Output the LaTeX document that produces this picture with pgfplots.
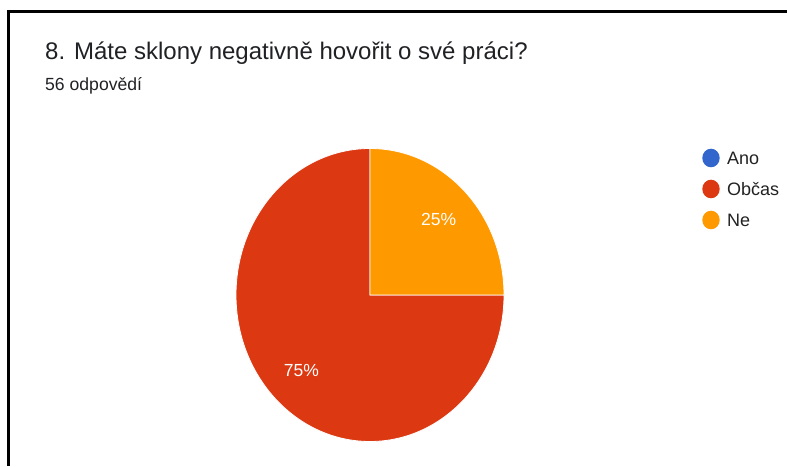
\documentclass[border=0pt]{standalone}
\usepackage{pgfplots}
\usepackage{pgfplotstable}
\pgfplotsset{compat=1.18}
\usetikzlibrary{calc}
\usepackage{fontspec}
\setmainfont{Liberation Sans}
\definecolor{cAno}{HTML}{3366CC}
\definecolor{cObcas}{HTML}{DC3912}
\definecolor{cNe}{HTML}{FF9900}
\definecolor{txt}{HTML}{202124}
\definecolor{leg}{HTML}{222222}

\pgfplotstableread{
label count
Ano 0
Obcas 42
Ne 14
}\piedata

\begin{document}
\begin{tikzpicture}
\pgfplotstablegetelem{0}{count}\of\piedata \edef\vA{\pgfplotsretval}
\pgfplotstablegetelem{1}{count}\of\piedata \edef\vB{\pgfplotsretval}
\pgfplotstablegetelem{2}{count}\of\piedata \edef\vC{\pgfplotsretval}
\pgfmathsetmacro\tot{\vA+\vB+\vC}
% Ne: from 90 clockwise
\pgfmathsetmacro\neS{90}
\pgfmathsetmacro\neE{90-360*\vC/\tot}
\pgfmathsetmacro\obS{\neE}
\pgfmathsetmacro\obE{\obS-360*\vB/\tot}
\pgfmathsetmacro\neM{(\neS+\neE)/2}
\pgfmathsetmacro\obM{(\obS+\obE)/2}
\pgfmathsetmacro\nePct{round(100*\vC/\tot)}
\pgfmathsetmacro\obPct{round(100*\vB/\tot)}
\pgfmathtruncatemacro\nePctI{\nePct}
\pgfmathtruncatemacro\obPctI{\obPct}
\begin{axis}[
  at={(0,0)}, anchor=south west,
  scale only axis, width=787pt, height=466pt,
  xmin=0, xmax=787, ymin=0, ymax=466,
  hide axis, clip=false,
]
% border
\draw[black, line width=3.3pt] (axis cs:6.8,454.5) -- (axis cs:787,454.5);
\draw[black, line width=3.3pt] (axis cs:8.4,456.1) -- (axis cs:8.4,0);
% title
\node[anchor=base west, inner sep=0pt, text=txt, font=\fontsize{24}{27}\selectfont] at (axis cs:45,406) {8. Máte sklony negativně hovořit o své práci?};
\node[anchor=base west, inner sep=0pt, text=txt, font=\fontsize{17.6}{20}\selectfont] at (axis cs:45,375) {56 odpovědí};
% pie
\fill[cObcas, draw=white, line width=0.8pt] (axis cs:370,171) -- ++(\obS:134pt and 146.5pt) arc[start angle=\obS, end angle=\obE, x radius=134pt, y radius=146.5pt] -- cycle;
\fill[cNe, draw=white, line width=0.8pt] (axis cs:370,171) -- ++(\neS:134pt and 146.5pt) arc[start angle=\neS, end angle=\neE, x radius=134pt, y radius=146.5pt] -- cycle;
\node[text=white, font=\fontsize{17.5}{20}\selectfont] at ($(axis cs:370,171)+(\neM:0.725*134pt and 0.725*146.5pt)$) {\nePctI\%};
\node[text=white, font=\fontsize{17.5}{20}\selectfont] at ($(axis cs:370,171)+(\obM:0.725*134pt and 0.725*146.5pt)$) {\obPctI\%};
% legend
\fill[cAno] (axis cs:711,308) ellipse[x radius=8.7pt, y radius=9.3pt];
\fill[cObcas] (axis cs:711,277) ellipse[x radius=8.7pt, y radius=9.3pt];
\fill[cNe] (axis cs:711,246) ellipse[x radius=8.7pt, y radius=9.3pt];
\node[anchor=west, inner sep=0pt, text=leg, font=\fontsize{18}{21}\selectfont] at (axis cs:727,308) {Ano};
\node[anchor=west, inner sep=0pt, text=leg, font=\fontsize{18}{21}\selectfont] at (axis cs:727,277) {Občas};
\node[anchor=west, inner sep=0pt, text=leg, font=\fontsize{18}{21}\selectfont] at (axis cs:727,246) {Ne};
\end{axis}
\pgfresetboundingbox
\path[use as bounding box] (0,0) rectangle (787pt,466pt);
\end{tikzpicture}
\end{document}
